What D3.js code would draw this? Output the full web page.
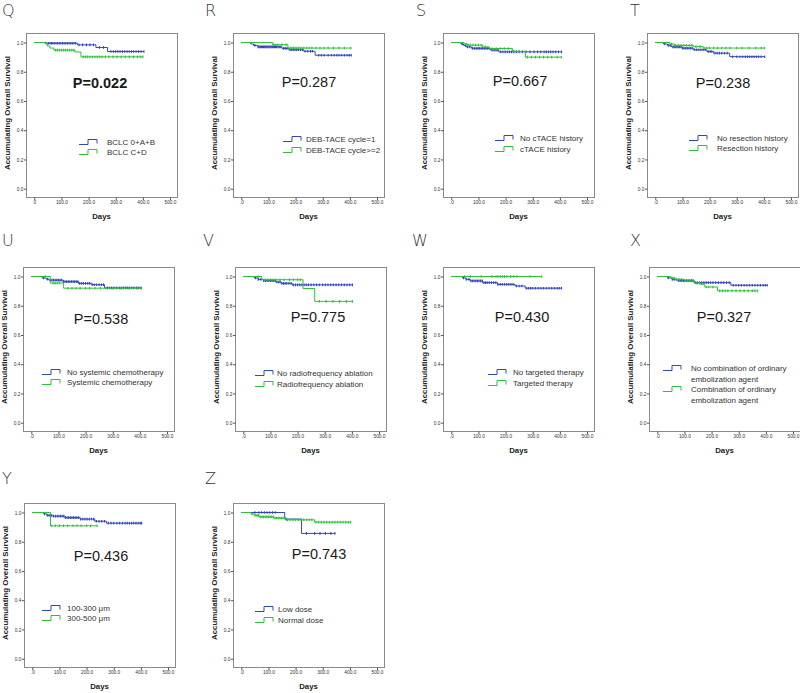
<!DOCTYPE html>
<html><head><meta charset="utf-8">
<script src="https://cdn.jsdelivr.net/npm/d3@7"></script>
<style>body{margin:0;background:#fff}</style>
</head><body>
<script>
// ---------------- DATA ----------------
const panelIds = ["Q","R","S","T","U","V","W","X","Y","Z"];
const pValues = ["P=0.022","P=0.287","P=0.667","P=0.238","P=0.538","P=0.775","P=0.430","P=0.327","P=0.436","P=0.743"];
const legendBlue = ["BCLC 0+A+B","DEB-TACE cycle=1","No cTACE history","No resection history","No systemic chemotherapy","No radiofrequency ablation","No targeted therapy","No combination of ordinary|embolization agent","100-300 μm","Low dose"];
const legendGreen = ["BCLC C+D","DEB-TACE cycle>=2","cTACE history","Resection history","Systemic chemotherapy","Radiofrequency ablation","Targeted therapy","Combination of ordinary|embolization agent","300-500 μm","Normal dose"];
const xTicks = [0,100,200,300,400,500];
const xTickLabels = [".0","100.0","200.0","300.0","400.0","500.0"];
const xTickLabelsQ = ["0","100.0","200.0","300.0","400.0","500.0"];
const yTicks = [0,0.2,0.4,0.6,0.8,1.0];
const yTickLabels = ["0.0","0.2","0.4","0.6","0.8","1.0"];

// survival steps [day, survival] (last point = end of follow-up) and censored days
const Q_blue = [[0,1],[45,0.995],[159,0.984],[227,0.966],[270,0.938],[404,0.938]];
const Q_blueCens = [52,58,63,68,74,80,86,92,98,104,110,116,122,128,134,140,146,152,165,178,192,205,218,240,255,282,292,300,308,316,325,333,342,350,358,366,375,384,393,404];
const Q_green = [[0,1],[40,0.99],[48,0.975],[58,0.962],[72,0.948],[150,0.935],[172,0.902],[400,0.902]];
const Q_greenCens = [78,85,92,100,108,115,122,130,138,145,180,188,196,205,214,223,232,241,250,262,275,290,305,320,335,350,365,380,392,400];

const R_blue = [[0,1],[35,0.99],[45,0.98],[60,0.97],[150,0.96],[175,0.95],[230,0.94],[272,0.913],[405,0.913]];
const R_blueCens = [50,62,66,70,74,78,82,86,90,94,98,102,106,110,114,118,122,126,130,135,140,145,155,162,168,180,186,192,198,204,210,218,225,235,245,255,262,285,295,305,320,332,342,352,360,370,380,390,398,405];
const R_green = [[0,1],[116,0.985],[172,0.962],[404,0.962]];
const R_greenCens = [118,125,135,150,165,180,186,192,198,205,212,220,230,240,250,260,275,290,305,320,340,360,380,404];

const S_blue = [[0,1],[35,0.99],[45,0.98],[55,0.97],[75,0.96],[145,0.948],[175,0.936],[406,0.936]];
const S_blueCens = [40,52,60,68,78,85,92,98,104,110,116,122,128,134,140,150,158,165,172,182,190,198,206,214,222,230,240,250,262,275,290,305,318,330,342,350,358,366,375,385,395,406];
const S_green = [[0,1],[47,0.99],[60,0.982],[115,0.97],[140,0.959],[225,0.94],[273,0.9],[406,0.9]];
const S_greenCens = [55,62,70,80,90,100,110,125,150,165,180,195,210,230,250,280,295,310,325,340,355,370,390,406];

const T_blue = [[0,1],[30,0.99],[45,0.98],[60,0.97],[100,0.961],[140,0.95],[190,0.938],[215,0.927],[274,0.903],[403,0.903]];
const T_blueCens = [35,48,55,65,70,75,80,85,90,95,100,106,112,118,124,130,136,145,152,160,168,176,184,195,202,208,220,228,236,245,255,265,285,300,312,322,332,340,348,356,364,372,380,390,403];
const T_green = [[0,1],[53,0.99],[70,0.98],[140,0.972],[176,0.962],[403,0.962]];
const T_greenCens = [60,75,85,95,105,115,125,135,150,165,180,190,200,215,230,245,260,275,300,320,345,370,390,403];

const U_blue = [[0,1],[40,0.99],[55,0.982],[65,0.975],[118,0.965],[173,0.953],[222,0.944],[270,0.922],[405,0.922]];
const U_blueCens = [45,60,70,76,82,88,94,100,106,112,118,124,130,136,142,148,154,160,166,172,178,185,192,200,208,215,225,232,240,250,258,266,280,288,296,305,315,325,332,340,348,355,362,370,378,388,396,405];
const U_green = [[0,1],[70,0.955],[119,0.92],[405,0.92]];
const U_greenCens = [52,80,88,96,104,135,150,165,180,200,215,235,255,275,300,330,360,390,405];

const V_blue = [[0,1],[40,0.99],[55,0.98],[75,0.971],[120,0.962],[140,0.953],[180,0.943],[402,0.943]];
const V_blueCens = [45,55,65,75,82,88,94,100,106,112,118,124,130,136,142,148,154,160,168,176,184,192,200,208,216,224,232,240,250,260,270,280,292,302,312,322,332,342,352,362,372,382,392,402];
const V_green = [[0,1],[68,0.978],[220,0.918],[263,0.83],[402,0.83]];
const V_greenCens = [55,80,90,100,110,120,135,150,170,185,200,210,280,305,330,355,380,402];

const W_blue = [[0,1],[42,0.99],[55,0.98],[70,0.97],[115,0.958],[170,0.946],[235,0.935],[272,0.92],[406,0.92]];
const W_blueCens = [45,55,65,72,78,84,90,96,102,108,114,120,126,132,140,148,156,164,172,180,188,196,204,212,220,228,240,250,260,278,285,292,300,310,320,330,340,350,360,370,380,390,398,406];
const W_green = [[0,1],[333,1]];
const W_greenCens = [50,70,110,150,165,172,180,188,196,205,218,230,242,290,333];

const X_blue = [[0,1],[38,0.99],[55,0.98],[75,0.972],[136,0.958],[271,0.94],[405,0.94]];
const X_blueCens = [40,55,62,70,78,84,90,96,102,108,114,120,126,132,140,148,156,164,172,180,188,196,205,215,225,235,245,255,265,280,290,300,310,320,330,340,350,360,370,380,390,398,405];
const X_green = [[0,1],[50,0.99],[65,0.98],[100,0.97],[136,0.955],[160,0.946],[175,0.928],[222,0.902],[370,0.902]];
const X_greenCens = [55,62,70,80,90,100,110,120,130,145,155,180,190,205,230,240,250,260,275,290,305,320,335,350,360,370];

const Y_blue = [[0,1],[42,0.99],[55,0.98],[75,0.975],[120,0.965],[176,0.955],[230,0.94],[273,0.927],[403,0.927]];
const Y_blueCens = [45,55,62,70,78,85,92,98,104,110,116,122,128,134,140,146,152,158,164,170,178,186,194,202,210,218,226,236,246,256,266,280,290,300,312,322,332,342,350,358,366,374,382,390,398,403];
const Y_green = [[0,1],[67,0.909],[239,0.909]];
const Y_greenCens = [70,85,100,115,130,150,165,180,200,215,239];

const Z_blue = [[0,1],[160,0.955],[222,0.857],[345,0.857]];
const Z_blueCens = [50,65,75,85,95,105,115,125,165,240,270,290,310,330,345];
const Z_green = [[0,1],[36,0.99],[50,0.98],[65,0.97],[120,0.962],[165,0.95],[270,0.934],[403,0.934]];
const Z_greenCens = [40,50,58,64,70,76,82,88,94,100,106,112,118,124,130,136,142,148,154,160,170,180,190,200,210,220,230,240,250,260,275,285,295,305,315,325,335,345,355,365,375,385,395,403];

const blueSeries = [Q_blue,R_blue,S_blue,T_blue,U_blue,V_blue,W_blue,X_blue,Y_blue,Z_blue];
const blueCensored = [Q_blueCens,R_blueCens,S_blueCens,T_blueCens,U_blueCens,V_blueCens,W_blueCens,X_blueCens,Y_blueCens,Z_blueCens];
const greenSeries = [Q_green,R_green,S_green,T_green,U_green,V_green,W_green,X_green,Y_green,Z_green];
const greenCensored = [Q_greenCens,R_greenCens,S_greenCens,T_greenCens,U_greenCens,V_greenCens,W_greenCens,X_greenCens,Y_greenCens,Z_greenCens];

// ---------------- LAYOUT ----------------
const layout = [
  {left:26, top:33, lx:2,  lb:16, px:74, py:50, sx:53, tx:81, ly:[109,119]},
  {left:233,top:33, lx:205,lb:16, px:76, py:49, sx:50, tx:73, ly:[106,117]},
  {left:443,top:33, lx:416,lb:16, px:77, py:48, sx:52, tx:77, ly:[105,116]},
  {left:647,top:33, lx:630,lb:16, px:76, py:50, sx:42, tx:70, ly:[105,115]},
  {left:23, top:267,lx:2,  lb:246, px:78, py:52, sx:19, tx:44, ly:[105,115]},
  {left:235,top:267,lx:203,lb:246, px:83, py:50, sx:20, tx:42, ly:[106,117]},
  {left:443,top:267,lx:412,lb:246, px:79, py:50, sx:45, tx:70, ly:[105,116]},
  {left:649,top:267,lx:630,lb:246, px:75, py:50, sx:14, tx:42, ly:[101,122]},
  {left:24, top:503,lx:2,  lb:484, px:77, py:53, sx:18, tx:43, ly:[105,115]},
  {left:233,top:503,lx:205,lb:484, px:86, py:51, sx:22, tx:45, ly:[106,117]}
];
const FW = 151, FH = 164;
const BLUE = "#3346b8", GREEN = "#2fbf3a";
const FONT = "'Liberation Sans', Arial, sans-serif";

const svg = d3.select("body").append("svg").attr("width",800).attr("height",693)
  .style("font-family", FONT);

function survAt(steps, t){
  let s = steps[0][1];
  for (const [d,v] of steps){ if (d <= t) s = v; }
  return s;
}

panelIds.forEach((id, i) => {
  const L = layout[i];
  svg.append("text").attr("x", L.lx).attr("y", L.lb).text(id)
    .attr("font-size", 16).attr("fill", "#333").attr("font-family","'DejaVu Sans', sans-serif").attr("font-weight", 200);

  const g = svg.append("g").attr("transform", `translate(${L.left},${L.top})`);
  const x = d3.scaleLinear().domain([0,500]).range([8.3,144]);
  const y = d3.scaleLinear().domain([0,1]).range([155.7,9.5]);

  g.append("rect").attr("x",0.5).attr("y",0.5).attr("width",FW).attr("height",FH)
    .attr("fill","none").attr("stroke","#8a8a8a").attr("stroke-width",1);

  const ya = g.append("g").attr("transform","translate(0.5,0)")
    .call(d3.axisLeft(y).tickValues(yTicks).tickFormat((d,k)=>yTickLabels[k]).tickSize(2.5).tickPadding(0.5));
  ya.select(".domain").remove();
  ya.selectAll("line").attr("stroke","#555");
  ya.selectAll("text").attr("font-size",4.8).attr("fill","#333").attr("font-family",FONT);

  const labels = id === "Q" ? xTickLabelsQ : xTickLabels;
  const xa = g.append("g").attr("transform",`translate(0,${FH+0.5})`)
    .call(d3.axisBottom(x).tickValues(xTicks).tickFormat((d,k)=>labels[k]).tickSize(2.5).tickPadding(1));
  xa.select(".domain").remove();
  xa.selectAll("line").attr("stroke","#555");
  xa.selectAll("text").attr("font-size",4.8).attr("fill","#333").attr("font-family",FONT);

  g.append("text").attr("x", FW/2).attr("y", FH+22).attr("text-anchor","middle")
    .attr("font-size",7.8).attr("font-weight","bold").attr("fill","#222").text("Days");
  g.append("text").attr("transform", `translate(-16,${FH/2 - 2}) rotate(-90)`).attr("text-anchor","middle")
    .attr("font-size",7.9).attr("font-weight","bold").attr("fill","#222").text("Accumulating Overall Survival");

  const line = d3.line().x(d=>x(d[0])).y(d=>y(d[1])).curve(d3.curveStepAfter);
  const groups = [
    {steps: blueSeries[i], cens: blueCensored[i], color: BLUE},
    {steps: greenSeries[i], cens: greenCensored[i], color: GREEN}
  ];
  groups.forEach(gr => {
    g.append("path").attr("d", line(gr.steps)).attr("fill","none")
      .attr("stroke", gr.color).attr("stroke-width",1);
    g.selectAll(null).data(gr.cens).enter().append("line")
      .attr("x1", d=>x(d)).attr("x2", d=>x(d))
      .attr("y1", d=>y(survAt(gr.steps,d))-1.3).attr("y2", d=>y(survAt(gr.steps,d))+1.3)
      .attr("stroke", gr.color).attr("stroke-width",1.1);
  });

  g.append("text").attr("x", L.px).attr("y", L.py+5.2).attr("text-anchor","middle")
    .attr("font-size", 14.5).attr("font-weight", id==="Q" ? "bold" : "normal")
    .attr("fill","#1a1a1a").text(pValues[i]);

  [[legendBlue[i], BLUE],[legendGreen[i], GREEN]].forEach(([txt,col],k) => {
    const cy = L.ly[k];
    g.append("path")
      .attr("d", `M${L.sx},${cy+2.5}H${L.sx+9}V${cy-2.5}H${L.sx+18}V${cy+1.5}`)
      .attr("fill","none").attr("stroke",col).attr("stroke-width",1);
    const parts = txt.split("|");
    parts.forEach((pt, j) => {
      g.append("text").attr("x", L.tx).attr("y", cy + 3 + j*10.5)
        .attr("font-size", 8).attr("fill","#333").text(pt);
    });
  });
});
</script>
</body></html>
